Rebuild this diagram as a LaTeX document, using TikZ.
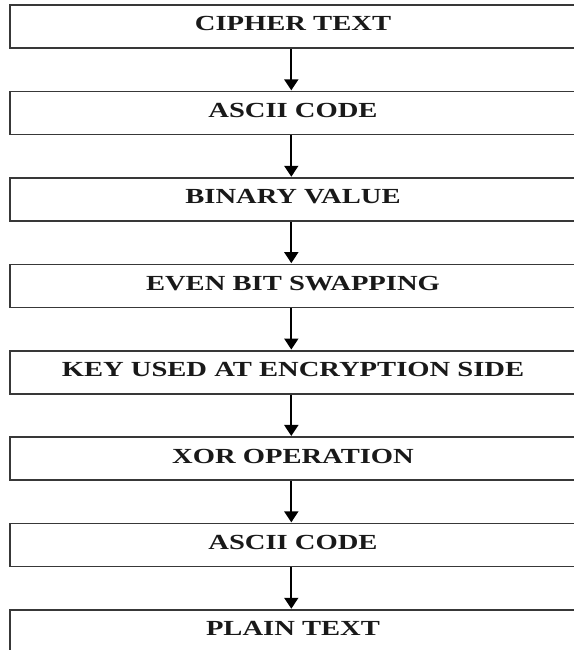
\documentclass[tikz,border=0pt]{standalone}
\usepackage{fontspec}
\setmainfont[FakeStretch=1.33]{Liberation Serif}
\usetikzlibrary{arrows.meta}
\begin{document}
\begin{tikzpicture}[x=1pt,y=-1pt,
  stage/.style={draw=black!78, line width=1.6pt, rectangle, minimum width=566pt,
    minimum height=43pt, inner sep=0pt, text height=12.5pt, text depth=4pt,
    font=\fontsize{21.5}{24}\selectfont\bfseries, text=black!90},
  flow/.style={draw=black, line width=1.8pt, -{Triangle[width=14pt,length=11pt]}, shorten >=0.5pt}]
\useasboundingbox (0,0) rectangle (573,650);
\node[stage] (b1) at (293, 26.75) {CIPHER TEXT};
\node[stage] (b2) at (293, 113.15) {ASCII CODE};
\node[stage] (b3) at (293, 199.55) {BINARY VALUE};
\node[stage] (b4) at (293, 285.95) {EVEN BIT SWAPPING};
\node[stage] (b5) at (293, 372.35) {KEY USED AT ENCRYPTION SIDE};
\node[stage] (b6) at (293, 458.75) {XOR OPERATION};
\node[stage] (b7) at (293, 545.15) {ASCII CODE};
\node[stage] (b8) at (293, 631.55) {PLAIN TEXT};
\foreach \a/\b in {b1/b2,b2/b3,b3/b4,b4/b5,b5/b6,b6/b7,b7/b8}{
  \draw[flow] ([xshift=-1.7pt]\a.south) -- ([xshift=-1.7pt]\b.north);
}
\end{tikzpicture}
\end{document}
